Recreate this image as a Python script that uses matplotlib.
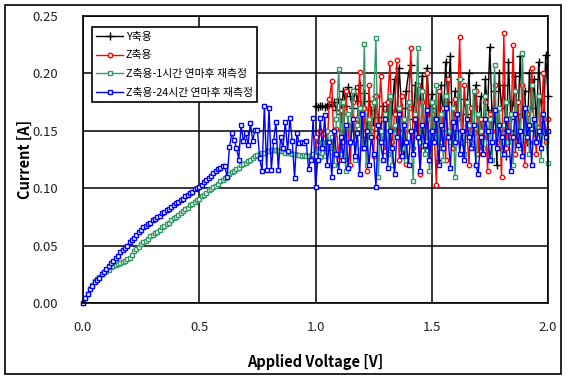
import numpy as np
import matplotlib
matplotlib.use("Agg")
import matplotlib.pyplot as plt
from matplotlib.patches import Rectangle

plt.rcParams['font.family'] = ['Noto Sans CJK KR', 'DejaVu Sans']

# ---------------- data ----------------
series_names = ["Y축용", "Z축용", "Z축용-1시간 연마후 재측정", "Z축용-24시간 연마후 재측정"]
series_colors = ["#000000", "#FF0000", "#339966", "#0000FF"]

v_start, v_step = 0.0, 0.01

# Y축용 : 1.00 .. 2.00 V
y_axis_current = [
    0.172, 0.171, 0.172, 0.172, 0.171, 0.172, 0.173, 0.172, 0.175, 0.168,
    0.178, 0.165, 0.185, 0.172, 0.188, 0.180, 0.170, 0.186, 0.176, 0.190,
    0.158, 0.183, 0.145, 0.176, 0.168, 0.155, 0.180, 0.162, 0.150, 0.172,
    0.160, 0.175, 0.140, 0.168, 0.195, 0.152, 0.205, 0.170, 0.130, 0.185,
    0.200, 0.207, 0.160, 0.190, 0.145, 0.178, 0.198, 0.135, 0.205, 0.165,
    0.182, 0.150, 0.170, 0.125, 0.190, 0.160, 0.210, 0.175, 0.215, 0.145,
    0.185, 0.160, 0.195, 0.140, 0.178, 0.165, 0.200, 0.155, 0.172, 0.190,
    0.150, 0.180, 0.135, 0.195, 0.168, 0.223, 0.158, 0.185, 0.120, 0.200,
    0.170, 0.190, 0.128, 0.210, 0.160, 0.175, 0.198, 0.150, 0.215, 0.165,
    0.185, 0.140, 0.200, 0.170, 0.195, 0.155, 0.210, 0.175, 0.150, 0.216,
    0.180]

# Z축용 : 1.00 .. 2.00 V
z_axis_current = [
    0.145, 0.138, 0.150, 0.140, 0.148, 0.135, 0.178, 0.193, 0.130, 0.152,
    0.125, 0.168, 0.140, 0.185, 0.155, 0.120, 0.175, 0.142, 0.160, 0.201,
    0.135, 0.170, 0.115, 0.190, 0.150, 0.128, 0.180, 0.145, 0.198, 0.160,
    0.132, 0.175, 0.209, 0.140, 0.165, 0.212, 0.125, 0.180, 0.150, 0.121,
    0.170, 0.222, 0.135, 0.160, 0.190, 0.112, 0.175, 0.145, 0.200, 0.130,
    0.165, 0.150, 0.103, 0.185, 0.140, 0.170, 0.125, 0.195, 0.150, 0.135,
    0.178, 0.160, 0.232, 0.140, 0.190, 0.155, 0.120, 0.170, 0.148, 0.185,
    0.130, 0.160, 0.145, 0.175, 0.115, 0.165, 0.150, 0.190, 0.140, 0.170,
    0.110, 0.235, 0.135, 0.160, 0.145, 0.225, 0.130, 0.175, 0.150, 0.190,
    0.120, 0.165, 0.140, 0.205, 0.155, 0.130, 0.180, 0.150, 0.200, 0.140,
    0.160]

# Z축용-1시간 : 0.00 .. 2.00 V
z_1h_current = [
    0.000, 0.004, 0.008, 0.012, 0.016, 0.019, 0.021, 0.023, 0.025, 0.027,
    0.028, 0.029, 0.031, 0.032, 0.033, 0.034, 0.035, 0.036, 0.037, 0.038,
    0.039, 0.042, 0.045, 0.047, 0.049, 0.051, 0.053, 0.054, 0.056, 0.058,
    0.059, 0.061, 0.062, 0.064, 0.066, 0.067, 0.069, 0.070, 0.072, 0.074,
    0.075, 0.077, 0.078, 0.080, 0.082, 0.083, 0.085, 0.086, 0.088, 0.090,
    0.091, 0.093, 0.094, 0.096, 0.098, 0.099, 0.101, 0.102, 0.104, 0.106,
    0.107, 0.109, 0.110, 0.112, 0.114, 0.115, 0.117, 0.118, 0.120, 0.121,
    0.122, 0.124, 0.125, 0.126, 0.128, 0.129, 0.130, 0.131, 0.131, 0.132,
    0.132, 0.133, 0.133, 0.133, 0.132, 0.132, 0.132, 0.131, 0.131, 0.131,
    0.130, 0.130, 0.129, 0.129, 0.128, 0.129, 0.128, 0.128, 0.129, 0.130,
    0.128,
    0.132, 0.127, 0.140, 0.128, 0.150, 0.135, 0.145, 0.120, 0.160, 0.204,
    0.130, 0.175, 0.115, 0.165, 0.140, 0.185, 0.125, 0.155, 0.170, 0.135,
    0.226, 0.120, 0.160, 0.145, 0.175, 0.231, 0.110, 0.150, 0.140, 0.165,
    0.130, 0.180, 0.120, 0.155, 0.145, 0.170, 0.135, 0.160, 0.125, 0.175,
    0.150, 0.106, 0.165, 0.222, 0.140, 0.185, 0.130, 0.160, 0.115, 0.175,
    0.145, 0.190, 0.135, 0.165, 0.125, 0.180, 0.150, 0.140, 0.170, 0.110,
    0.160, 0.195, 0.145, 0.130, 0.175, 0.155, 0.140, 0.185, 0.120, 0.165,
    0.150, 0.135, 0.180, 0.140, 0.160, 0.125, 0.207, 0.145, 0.170, 0.130,
    0.155, 0.175, 0.140, 0.165, 0.120, 0.185, 0.150, 0.135, 0.218, 0.145,
    0.170, 0.130, 0.190, 0.155, 0.140, 0.180, 0.125, 0.160, 0.145, 0.122]

# Z축용-24시간 : 0.00 .. 2.00 V
z_24h_current = [
    0.000, 0.004, 0.008, 0.012, 0.015, 0.018, 0.020, 0.022, 0.025, 0.027,
    0.030, 0.032, 0.035, 0.037, 0.039, 0.041, 0.044, 0.046, 0.048, 0.050,
    0.053, 0.055, 0.057, 0.059, 0.062, 0.064, 0.066, 0.067, 0.069, 0.070,
    0.072, 0.073, 0.075, 0.076, 0.078, 0.079, 0.081, 0.082, 0.084, 0.085,
    0.087, 0.088, 0.090, 0.091, 0.093, 0.094, 0.096, 0.097, 0.099, 0.100,
    0.101, 0.103, 0.105, 0.107, 0.109, 0.111, 0.113, 0.115, 0.117, 0.118,
    0.119, 0.119,
    0.110, 0.136, 0.148, 0.142, 0.135, 0.125, 0.155, 0.141, 0.148, 0.138,
    0.157, 0.141, 0.151, 0.151, 0.126, 0.115, 0.172, 0.116, 0.170, 0.116,
    0.141, 0.158, 0.116, 0.145, 0.135, 0.158, 0.132, 0.161, 0.141, 0.109,
    0.148, 0.139, 0.140, 0.139, 0.141, 0.117, 0.125, 0.161, 0.101,
    0.125, 0.161, 0.135, 0.164, 0.120, 0.140, 0.110, 0.150, 0.130, 0.115,
    0.145, 0.125, 0.155, 0.118, 0.140, 0.160, 0.128, 0.148, 0.112, 0.165,
    0.135, 0.150, 0.120, 0.145, 0.130, 0.101, 0.155, 0.140, 0.125, 0.160,
    0.118, 0.150, 0.135, 0.112, 0.145, 0.165, 0.128, 0.155, 0.140, 0.120,
    0.150, 0.130, 0.160, 0.145, 0.115, 0.155, 0.138, 0.168, 0.125, 0.150,
    0.140, 0.160, 0.120, 0.155, 0.135, 0.170, 0.145, 0.118, 0.158, 0.140,
    0.165, 0.130, 0.150, 0.125, 0.160, 0.145, 0.135, 0.155, 0.120, 0.112,
    0.145, 0.130, 0.160, 0.150, 0.125, 0.140, 0.168, 0.135, 0.155, 0.145,
    0.130, 0.160, 0.150, 0.115, 0.145, 0.165, 0.138, 0.150, 0.128, 0.170,
    0.145, 0.155, 0.120, 0.160, 0.140, 0.150, 0.135, 0.165, 0.145, 0.150]

x_ticks = [0.0, 0.5, 1.0, 1.5, 2.0]
x_ticklabels = ["0.0", "0.5", "1.0", "1.5", "2.0"]
y_ticks = [0.00, 0.05, 0.10, 0.15, 0.20, 0.25]
y_ticklabels = ["0.00", "0.05", "0.10", "0.15", "0.20", "0.25"]
x_label = "Applied Voltage [V]"
y_label = "Current [A]"


def voltages(n):
    full = np.round(np.arange(201) * v_step + v_start, 2)
    return full[201 - n:]


# ---------------- figure ----------------
fig = plt.figure(figsize=(5.68, 3.80), dpi=100)
fig.patches.append(Rectangle((5 / 568, 1 - 374 / 380), 556 / 568, 369 / 380,
                             transform=fig.transFigure, fill=False,
                             edgecolor='black', linewidth=1.2))
ax = fig.add_axes([83 / 568, 1 - 303 / 380, 465 / 568, 287 / 380])

data = [y_axis_current, z_axis_current, z_1h_current, z_24h_current]
markers = ['+', 'o', 's', 's']
msizes = [6, 3.2, 3.2, 3.2]
for name, col, d, m, ms in zip(series_names, series_colors, data, markers, msizes):
    x = voltages(len(d))
    ax.plot(x, d, color=col, linewidth=1.0, marker=m, markersize=ms,
            markerfacecolor='white' if m != '+' else col,
            markeredgecolor=col, markeredgewidth=1.0, label=name, clip_on=False)

ax.set_xlim(0, 2.0)
ax.set_ylim(0, 0.25)
ax.set_xticks(x_ticks)
ax.set_xticklabels(x_ticklabels)
ax.set_yticks(y_ticks)
ax.set_yticklabels(y_ticklabels)
ax.tick_params(axis='both', length=0, labelsize=9.5, colors='#222222')
ax.tick_params(axis='x', pad=13)
ax.tick_params(axis='y', pad=18)
ax.grid(True, color='black', linewidth=1.1)
ax.set_axisbelow(True)
for s in ax.spines.values():
    s.set_color('black')
    s.set_linewidth(1.2)

ax.set_xlabel(x_label, fontsize=10.5, fontweight='bold', labelpad=14)
ax.set_ylabel(y_label, fontsize=10.5, fontweight='bold', labelpad=0)

leg = ax.legend(loc='upper left', bbox_to_anchor=(0.019, 0.96), fontsize=7.8,
                frameon=True, fancybox=False, edgecolor='black', framealpha=1,
                handlelength=2.5, borderpad=0.4, labelspacing=0.8,
                handletextpad=0.25, borderaxespad=0)
leg.get_frame().set_linewidth(1.2)

fig.savefig("out.png", dpi=100)
